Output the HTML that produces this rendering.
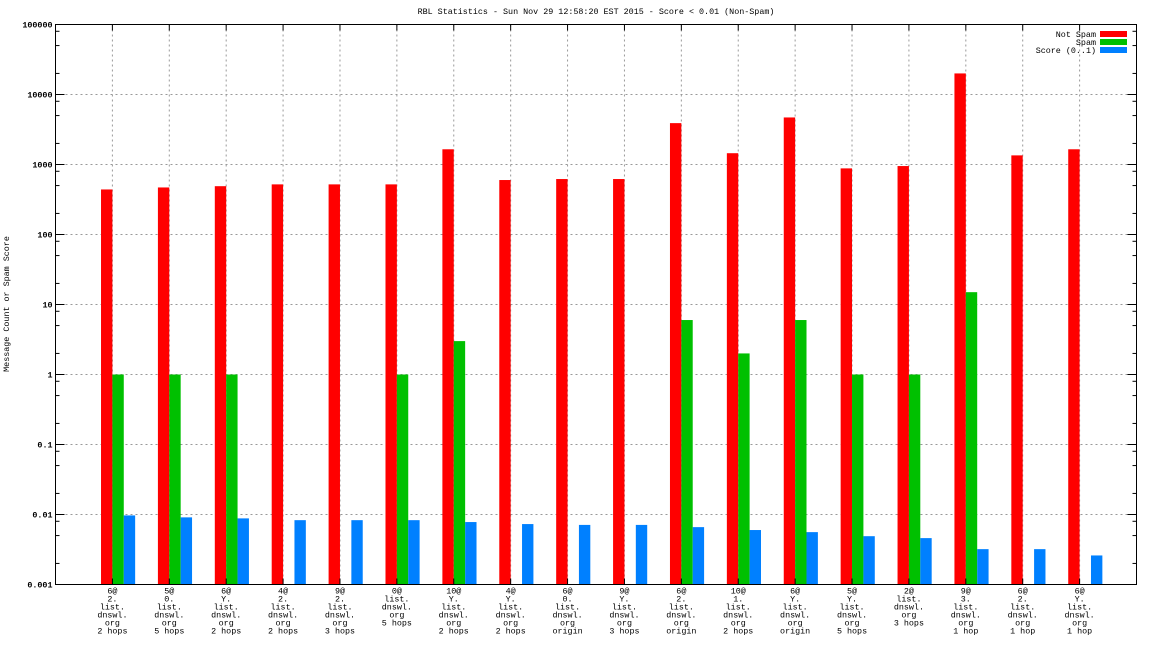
<!DOCTYPE html>
<html><head><meta charset="utf-8"><style>
html,body{margin:0;padding:0;background:#fff;}
svg{display:block;font-family:"Liberation Mono",monospace;font-size:8.4px;}
</style></head><body>
<svg id="chart" width="1152" height="648"></svg>
<script>
const categories=[
["6@","2.","list.","dnswl.","org","2 hops"],["5@","0.","list.","dnswl.","org","5 hops"],["6@","Y.","list.","dnswl.","org","2 hops"],
["4@","2.","list.","dnswl.","org","2 hops"],["9@","2.","list.","dnswl.","org","3 hops"],["0@","list.","dnswl.","org","5 hops"],
["10@","Y.","list.","dnswl.","org","2 hops"],["4@","Y.","list.","dnswl.","org","2 hops"],["6@","0.","list.","dnswl.","org","origin"],
["9@","Y.","list.","dnswl.","org","3 hops"],["6@","2.","list.","dnswl.","org","origin"],["10@","1.","list.","dnswl.","org","2 hops"],
["6@","Y.","list.","dnswl.","org","origin"],["5@","Y.","list.","dnswl.","org","5 hops"],["2@","list.","dnswl.","org","3 hops"],
["9@","3.","list.","dnswl.","org","1 hop"],["6@","2.","list.","dnswl.","org","1 hop"],["6@","Y.","list.","dnswl.","org","1 hop"]];
const notSpam=[440,470,490,520,520,520,1650,600,620,620,3900,1450,4700,880,950,20000,1350,1650];
const spam=[1,1,1,0,0,1,3,0,0,0,6,2,6,1,1,15,0,0];
const score=[0.0097,0.0091,0.0088,0.0083,0.0083,0.0083,0.0078,0.0073,0.0071,0.0071,0.0066,0.006,0.0056,0.0049,0.0046,0.0032,0.0032,0.0026];
const yTicks=["0.001","0.01","0.1","1","10","100","1000","10000","100000"];
const seriesNames=["Not Spam","Spam","Score (0..1)"];
const colors=["#ff0000","#00c000","#0080ff"];

const svg=document.getElementById('chart');
const NS="http://www.w3.org/2000/svg";
const L=55.5,R=1136.5,T=24.5,B=584.5;
const slot=(R-L)/19;
function xs(i){return L+(i+1)*slot;}
function ys(v){return B-(Math.log10(v)+3)*((B-T)/8);}
function mk(tag,attrs,parent){const e=document.createElementNS(NS,tag);for(const k in attrs)e.setAttribute(k,attrs[k]);(parent||svg).appendChild(e);return e;}

// grid
const grid=mk('g',{});


for(let d=1;d<8;d++){const y=ys(Math.pow(10,d-3));mk('line',{x1:L,x2:R,y1:y,y2:y,stroke:'#999',"stroke-dasharray":'2,3'},grid);}
categories.forEach((c,i)=>{const x=xs(i);mk('line',{x1:x,x2:x,y1:T,y2:B,stroke:'#999',"stroke-dasharray":'2,3'},grid);});

// bars
const series=[notSpam,spam,score];
series.forEach((arr,s)=>{
  const g=mk('g',{});
  
  
  arr.forEach((v,i)=>{
    if(!(v>0))return;
    const x0=xs(i)+(s-1)*slot*0.2;
    const y=ys(v);
    const r=mk('rect',{x:x0,y:y,width:slot*0.2,height:B-y,fill:colors[s]},g);
    
    
  });
});

// axes frame
const frame=mk('rect',{x:L,y:T,width:R-L,height:B-T,fill:'none',stroke:'#000','stroke-width':1});



// y ticks
yTicks.forEach((t,k)=>{
  const y=ys(parseFloat(t));
  mk('line',{x1:L,x2:L+9,y1:y,y2:y,stroke:'#000'});
  mk('line',{x1:R,x2:R-9,y1:y,y2:y,stroke:'#000'});
  const tx=mk('text',{x:L-3,y:y+3,'text-anchor':'end','font-weight':'bold'});
  tx.textContent=t;
  
  
  if(k<yTicks.length-1){[2,5,8].forEach(m=>{const yy=ys(parseFloat(t)*m);
    mk('line',{x1:L,x2:L+4,y1:yy,y2:yy,stroke:'#000'});mk('line',{x1:R,x2:R-4,y1:yy,y2:yy,stroke:'#000'});});}
});
// x ticks and labels
categories.forEach((c,i)=>{
  const x=xs(i);
  mk('line',{x1:x,x2:x,y1:B,y2:B-6,stroke:'#000'});
  mk('line',{x1:x,x2:x,y1:T,y2:T+6,stroke:'#000'});
  const tx=mk('text',{x:x,y:B+9,'text-anchor':'middle'});
  
  
  c.forEach((line,j)=>{const ts=mk('tspan',{x:x,dy:j==0?0:8},tx);ts.textContent=line;});
});

// title
const title=mk('text',{x:596,y:14,'text-anchor':'middle'});
title.textContent="RBL Statistics - Sun Nov 29 12:58:20 EST 2015 - Score < 0.01 (Non-Spam)";


// y label
const yl=mk('text',{x:0,y:0,'text-anchor':'middle',transform:'translate(9,304) rotate(-90)'});
yl.textContent="Message Count or Spam Score";



// legend
seriesNames.forEach((n,s)=>{
  const y=34+s*8;
  const g=mk('g',{});
  
  
  const t=mk('text',{x:1096,y:y+3,'text-anchor':'end'},g);t.textContent=n;
  mk('rect',{x:1100,y:y-3,width:27,height:6,fill:colors[s]},g);
});
</script>
</body></html>
